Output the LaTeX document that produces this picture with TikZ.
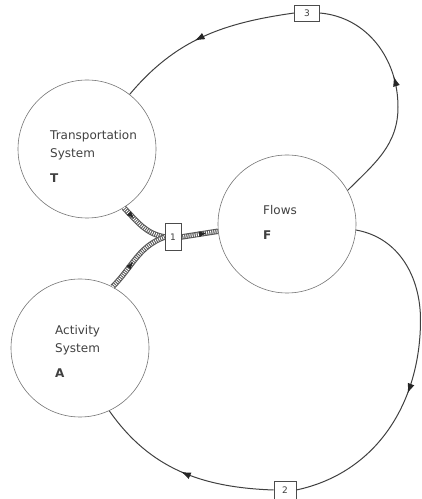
\documentclass[tikz,border=0pt]{standalone}
\usepackage{fontspec}
\setmainfont{DejaVu Sans}
\usetikzlibrary{arrows.meta,decorations.markings,calc}
\begin{document}
\begin{tikzpicture}[x=1pt,y=1pt,
  sys/.style={circle,draw=black!55,line width=0.6pt,minimum size=138pt,inner sep=0pt},
  lbl/.style={anchor=north west,align=left,inner sep=0pt,text=black!75,font=\fontsize{12}{18}\selectfont},
  numbox/.style={draw=black!70,fill=white,line width=0.6pt,inner sep=0pt,font=\fontsize{9}{9}\selectfont,text=black!75},
  loopline/.style={draw=black!75,line width=1pt},
  midarrow/.style={decoration={markings,mark=at position #1 with {\arrow{Latex[length=10pt,width=7pt,color=black!85]}}},postaction={decorate}},
  railarrow/.style={decoration={markings,mark=at position #1 with {\arrow{Latex[length=8pt,width=6pt,color=black!85]}}},postaction={decorate}},
  rail/.style={preaction={draw=black!65,line width=5.5pt},draw=white,line width=3.3pt,dash pattern=on 0.9pt off 1.2pt},
]
\useasboundingbox (0,0) rectangle (422,499);

% systems
\node[sys] (T) at (87,350) {};
\node[sys] (F) at (287,275) {};
\node[sys] (A) at (80,151) {};

\node[lbl] (Tl) at (50,369) {Transportation\\System\\[7pt]\textbf{T}};
\node[lbl] (Fl) at (263,294) {Flows\\[7pt]\textbf{F}};
\node[lbl] (Al) at (55,174) {Activity\\System\\[7pt]\textbf{A}};

% number boxes
\node[numbox,minimum width=25pt,minimum height=16pt] (b3) at (307,486) {3};
\node[numbox,minimum width=22pt,minimum height=18pt] (b2) at (285,9) {2};

\coordinate (r3) at (398,392);
\coordinate (r2) at (420.5,179);

% loop 3 : F -> T
\draw[loopline,midarrow=0.56] (F.29.5) to[out=45,in=-90] (r3) to[out=90,in=-5] (b3.east);
\draw[loopline,midarrow=0.55] (b3.west) to[out=188,in=50] (T.52.5);

% loop 2 : F -> A
\draw[loopline,midarrow=0.56] (F.-5) to[out=-10,in=90] (r2) to[out=-90,in=12] (b2.east);
\draw[loopline,midarrow=0.5] (b2.west) to[out=178,in=-55] (A.-65);

% relation 1
\node[numbox,minimum width=16pt,minimum height=27pt] (b1) at (173,262) {1};
\draw[rail,railarrow=0.3] (T.-58) to[out=-45,in=170] (b1.west);
\draw[rail,railarrow=0.45] (A.62) to[out=45,in=200] (b1.west);
\draw[rail,railarrow=0.7] (b1.east) -- (F.186);
\node[numbox,minimum width=16pt,minimum height=27pt] at (b1) {1};
\end{tikzpicture}
\end{document}
